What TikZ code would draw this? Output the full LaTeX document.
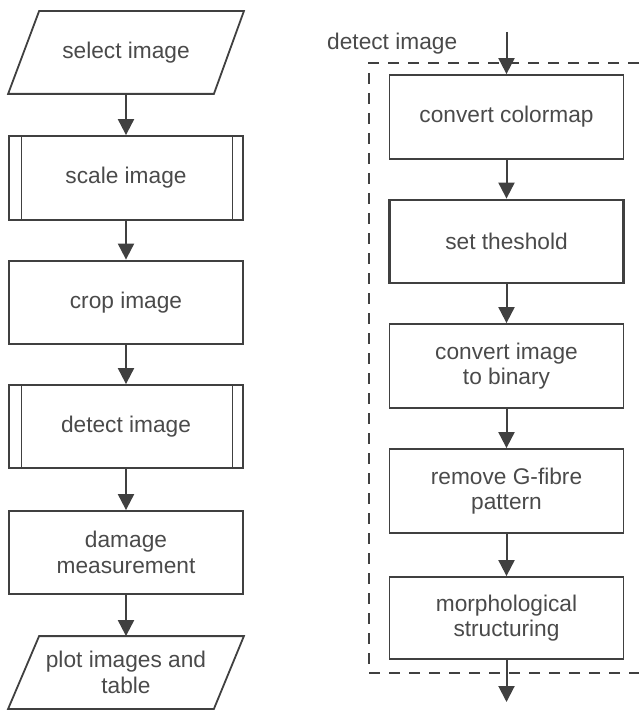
\documentclass[tikz,border=0pt]{standalone}
\usepackage{fontspec}
\setmainfont{Liberation Sans}
\usetikzlibrary{arrows.meta,calc}

\definecolor{ink}{HTML}{404040}
\definecolor{txt}{HTML}{4a4a4a}

\begin{document}
\begin{tikzpicture}[x=1pt,y=-1pt,
  base/.style={draw=ink, line width=1.8pt, text=txt, minimum width=234pt,
    minimum height=84pt, inner sep=0pt, align=center,
    font=\fontsize{22.7}{25.5}\selectfont},
  proc/.style={base},
  strongproc/.style={base, line width=2.8pt},
  subproc/.style={base},
  io/.style={base, draw=none},
  flow/.style={draw=ink, line width=2pt, -{Triangle[width=16pt,length=16pt]}},
  frame/.style={draw=ink, line width=1.7pt, dash pattern=on 11pt off 9pt},
  sideline/.style={draw=ink, line width=1.4pt},
  plain/.style={text=txt, inner sep=0pt, font=\fontsize{22.7}{25.5}\selectfont}]

\useasboundingbox (0,0) rectangle (639,719);

% left column: main procedure
\node[io, minimum height=81pt] (sel) at (126,52.5) {select image};
\draw[ink, line width=1.8pt] ($(sel.north west)+(31,0)$) -- (sel.north east)
  -- ($(sel.south east)-(30,0)$) -- (sel.south west) -- cycle;

\node[subproc] (scale) at (126,178) {scale image};
\node[strongproc, minimum height=83pt] (crop) at (126,302.5) {crop image};
\node[subproc, minimum height=83pt] (detect) at (126,426.5) {detect image};
\node[proc, minimum height=83pt] (damage) at (126,552.5) {damage\\measurement};

\node[io, minimum height=71pt] (plot) at (126,672.5) {plot images and\\table};
\draw[ink, line width=1.8pt] ($(plot.north west)+(31,0)$) -- (plot.north east)
  -- ($(plot.south east)-(30,0)$) -- (plot.south west) -- cycle;

% predefined-process side bars
\foreach \n in {scale,detect}{
  \draw[sideline] ($(\n.north west)+(13.5,0)$) -- ($(\n.south west)+(13.5,0)$);
  \draw[sideline] ($(\n.north east)-(11.5,0)$) -- ($(\n.south east)-(11.5,0)$);
}

\draw[flow] (sel) -- (scale);
\draw[flow] (scale) -- (crop);
\draw[flow] (crop) -- (detect);
\draw[flow] (detect) -- (damage);
\draw[flow] (damage) -- (plot);

% right column: detect image sub-procedure
\draw[frame] (639,63) -- (369,63) -- (369,673) -- (639,673);
\node[plain, anchor=base west] (lbl) at (327,49.5) {detect image};

\coordinate (in) at (506.5,32);
\coordinate (out) at (506.5,702);

\node[proc] (cmap) at (506.5,117) {convert colormap};
\node[strongproc, minimum height=83pt] (thr) at (506.5,241.5) {set theshold};
\node[proc] (bin) at (506.5,366) {convert image\\to binary};
\node[proc] (gfib) at (506.5,491) {remove G-fibre\\pattern};
\node[proc, minimum height=82pt] (morph) at (506.5,618) {morphological\\structuring};

\draw[flow] (in) -- (cmap);
\draw[flow] (cmap) -- (thr);
\draw[flow] (thr) -- (bin);
\draw[flow] (bin) -- (gfib);
\draw[flow] (gfib) -- (morph);
\draw[flow] (morph) -- (out);
\end{tikzpicture}
\end{document}
